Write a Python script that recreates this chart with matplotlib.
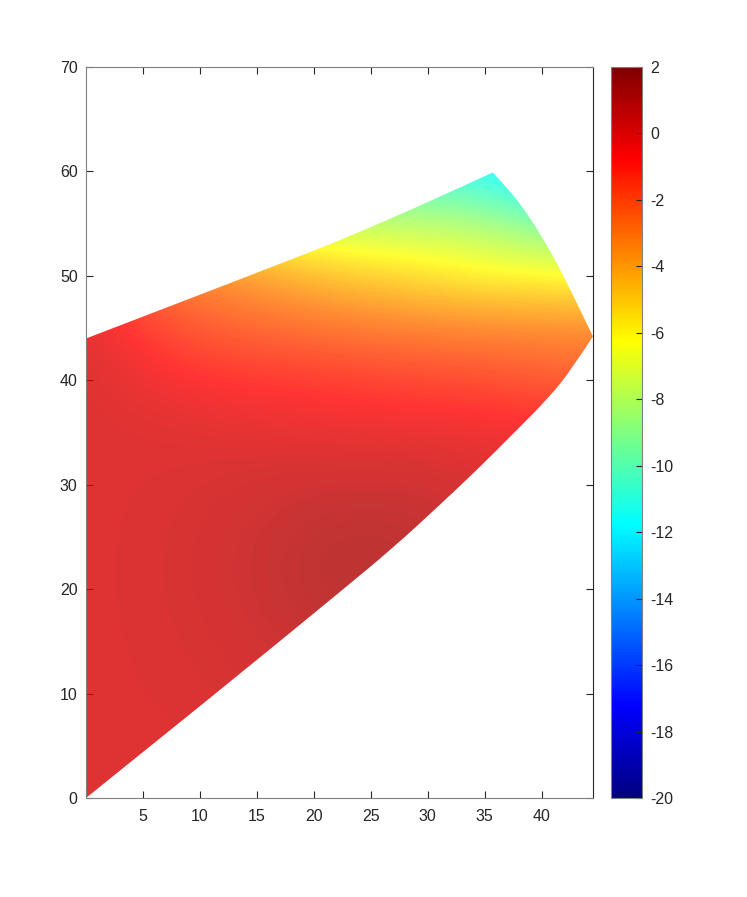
import numpy as np
import matplotlib
matplotlib.use("Agg")
import matplotlib.pyplot as plt
from matplotlib.cm import ScalarMappable
from matplotlib.colors import ListedColormap, Normalize
from matplotlib.patches import PathPatch
from matplotlib.path import Path

plt.rcParams["font.family"] = ["Liberation Sans", "DejaVu Sans"]
plt.rcParams["axes.unicode_minus"] = False

INK = "#262626"
FRAME = "#808080"

# field samples, one list per y level (x = 0, 5, ..., 45)
X_NODES = [0, 5, 10, 15, 20, 25, 30, 35, 40, 45]
Y_NODES = [0, 5, 10, 15, 20, 25, 30, 35, 40, 45, 50, 55, 60]
ROW_Y00 = [0.07, 0.07, 0.08, 0.09, 0.10, 0.10, 0.09, 0.08, 0.07, 0.07]
ROW_Y05 = [0.07, 0.08, 0.10, 0.13, 0.17, 0.18, 0.16, 0.12, 0.09, 0.07]
ROW_Y10 = [0.07, 0.10, 0.16, 0.26, 0.38, 0.40, 0.35, 0.22, 0.13, 0.08]
ROW_Y15 = [0.08, 0.12, 0.22, 0.43, 0.65, 0.72, 0.60, 0.35, 0.17, 0.10]
ROW_Y20 = [0.08, 0.13, 0.30, 0.57, 0.94, 1.00, 0.82, 0.50, 0.25, 0.11]
ROW_Y25 = [0.08, 0.13, 0.29, 0.55, 0.90, 1.00, 0.85, 0.50, 0.25, 0.10]
ROW_Y30 = [0.08, 0.10, 0.20, 0.35, 0.50, 0.55, 0.50, 0.25, 0.00, -0.15]
ROW_Y35 = [0.08, 0.06, 0.00, -0.10, -0.20, -0.25, -0.25, -0.30, -0.45, -0.60]
ROW_Y40 = [0.08, -0.30, -0.70, -0.90, -1.00, -1.20, -1.35, -1.50, -1.80, -2.10]
ROW_Y45 = [0.10, -1.10, -1.90, -2.20, -2.50, -2.70, -2.90, -3.00, -3.10, -3.10]
ROW_Y50 = [-1.20, -2.40, -3.10, -3.70, -4.40, -5.00, -5.50, -6.00, -6.10, -6.30]
ROW_Y55 = [-4.00, -5.00, -6.00, -7.00, -7.70, -7.90, -7.90, -8.30, -9.30, -10.30]
ROW_Y60 = [-7.00, -8.00, -9.00, -9.80, -10.40, -10.90, -11.30, -11.80, -13.00, -14.00]

# outline of the shaded region: three edges, each from corner to corner
TOP_X = [0.0, 14.1, 25.8, 35.7]
TOP_Y = [44.0, 49.9, 54.9, 59.9]
RIGHT_X = [35.7, 37.0, 38.45, 39.95, 41.5, 42.95, 44.5]
RIGHT_Y = [59.9, 58.4, 56.4, 53.9, 50.9, 47.7, 44.2]
BOTTOM_X = [44.5, 42.6, 40.6, 37.6, 34.4, 30.8, 27.0, 22.6, 11.4, 0.0]
BOTTOM_Y = [44.2, 41.0, 38.3, 35.0, 31.5, 27.8, 24.0, 20.0, 10.0, 0.0]

C_MIN, C_MAX = -20, 2
CBAR_TICKS = list(range(-20, 3, 2))


def matlab_jet(n=256):
    f = np.linspace(0, 1, n)
    return ListedColormap(np.column_stack(
        [np.clip(1.5 - np.abs(4 * f - k), 0, 1) for k in (3, 2, 1)]))


def smooth_edge(xs, ys):
    """Quadratic-spline path pieces through traced points (ends kept exact)."""
    pts = np.column_stack([xs, ys])
    verts, codes = [], []
    for i in range(1, len(pts) - 1):
        end = pts[i + 1] if i == len(pts) - 2 else (pts[i] + pts[i + 1]) / 2
        verts += [pts[i], end]
        codes += [Path.CURVE3, Path.CURVE3]
    if len(pts) == 2:
        verts, codes = [pts[1]], [Path.LINETO]
    return verts, codes


def outline_path():
    verts = [np.array([TOP_X[0], TOP_Y[0]])]
    codes = [Path.MOVETO]
    for xs, ys in ((TOP_X, TOP_Y), (RIGHT_X, RIGHT_Y), (BOTTOM_X, BOTTOM_Y)):
        v, c = smooth_edge(xs, ys)
        verts += v
        codes += c
    verts.append(verts[0])
    codes.append(Path.CLOSEPOLY)
    return Path(np.array(verts), codes)


def main():
    field = np.array([ROW_Y00, ROW_Y05, ROW_Y10, ROW_Y15, ROW_Y20, ROW_Y25,
                      ROW_Y30, ROW_Y35, ROW_Y40, ROW_Y45, ROW_Y50, ROW_Y55,
                      ROW_Y60])
    cmap = matlab_jet()
    norm = Normalize(C_MIN, C_MAX)

    fig = plt.figure(figsize=(7.47, 8.97), dpi=100)
    ax = fig.add_axes([0.1151, 0.1104, 0.6787, 0.8149])

    hx = (X_NODES[1] - X_NODES[0]) / 2
    hy = (Y_NODES[1] - Y_NODES[0]) / 2
    im = ax.imshow(field, origin="lower", cmap=cmap, norm=norm, alpha=0.8,
                   interpolation="bicubic", aspect="auto", zorder=1,
                   extent=(X_NODES[0] - hx, X_NODES[-1] + hx,
                           Y_NODES[0] - hy, Y_NODES[-1] + hy))
    im.set_clip_path(PathPatch(outline_path(), transform=ax.transData))

    ax.set_xlim(0, 44.5)
    ax.set_ylim(0, 70)
    ax.set_xticks([5, 10, 15, 20, 25, 30, 35, 40])
    ax.set_yticks(range(0, 71, 10))
    ax.set_axisbelow(True)
    ax.tick_params(direction="in", length=5, width=0.8, top=True, right=True,
                   labelsize=11.5, colors=INK, labelcolor=INK, pad=6)
    ax.tick_params(axis="x", pad=8)
    for side in ("left", "bottom", "top"):
        ax.spines[side].set_color(FRAME)
    ax.spines["right"].set_color(INK)
    for sp in ax.spines.values():
        sp.set_linewidth(0.8)

    cax = fig.add_axes([0.818, 0.1104, 0.0415, 0.8149])
    cb = fig.colorbar(ScalarMappable(norm=norm, cmap=cmap), cax=cax,
                      ticks=CBAR_TICKS)
    cb.ax.tick_params(direction="in", length=4, width=0.8, labelsize=11.5,
                      colors=INK, labelcolor=INK, pad=6)
    cb.outline.set_edgecolor(FRAME)
    cb.outline.set_linewidth(0.8)

    fig.savefig("out.png", dpi=100, facecolor="white")


if __name__ == "__main__":
    main()
